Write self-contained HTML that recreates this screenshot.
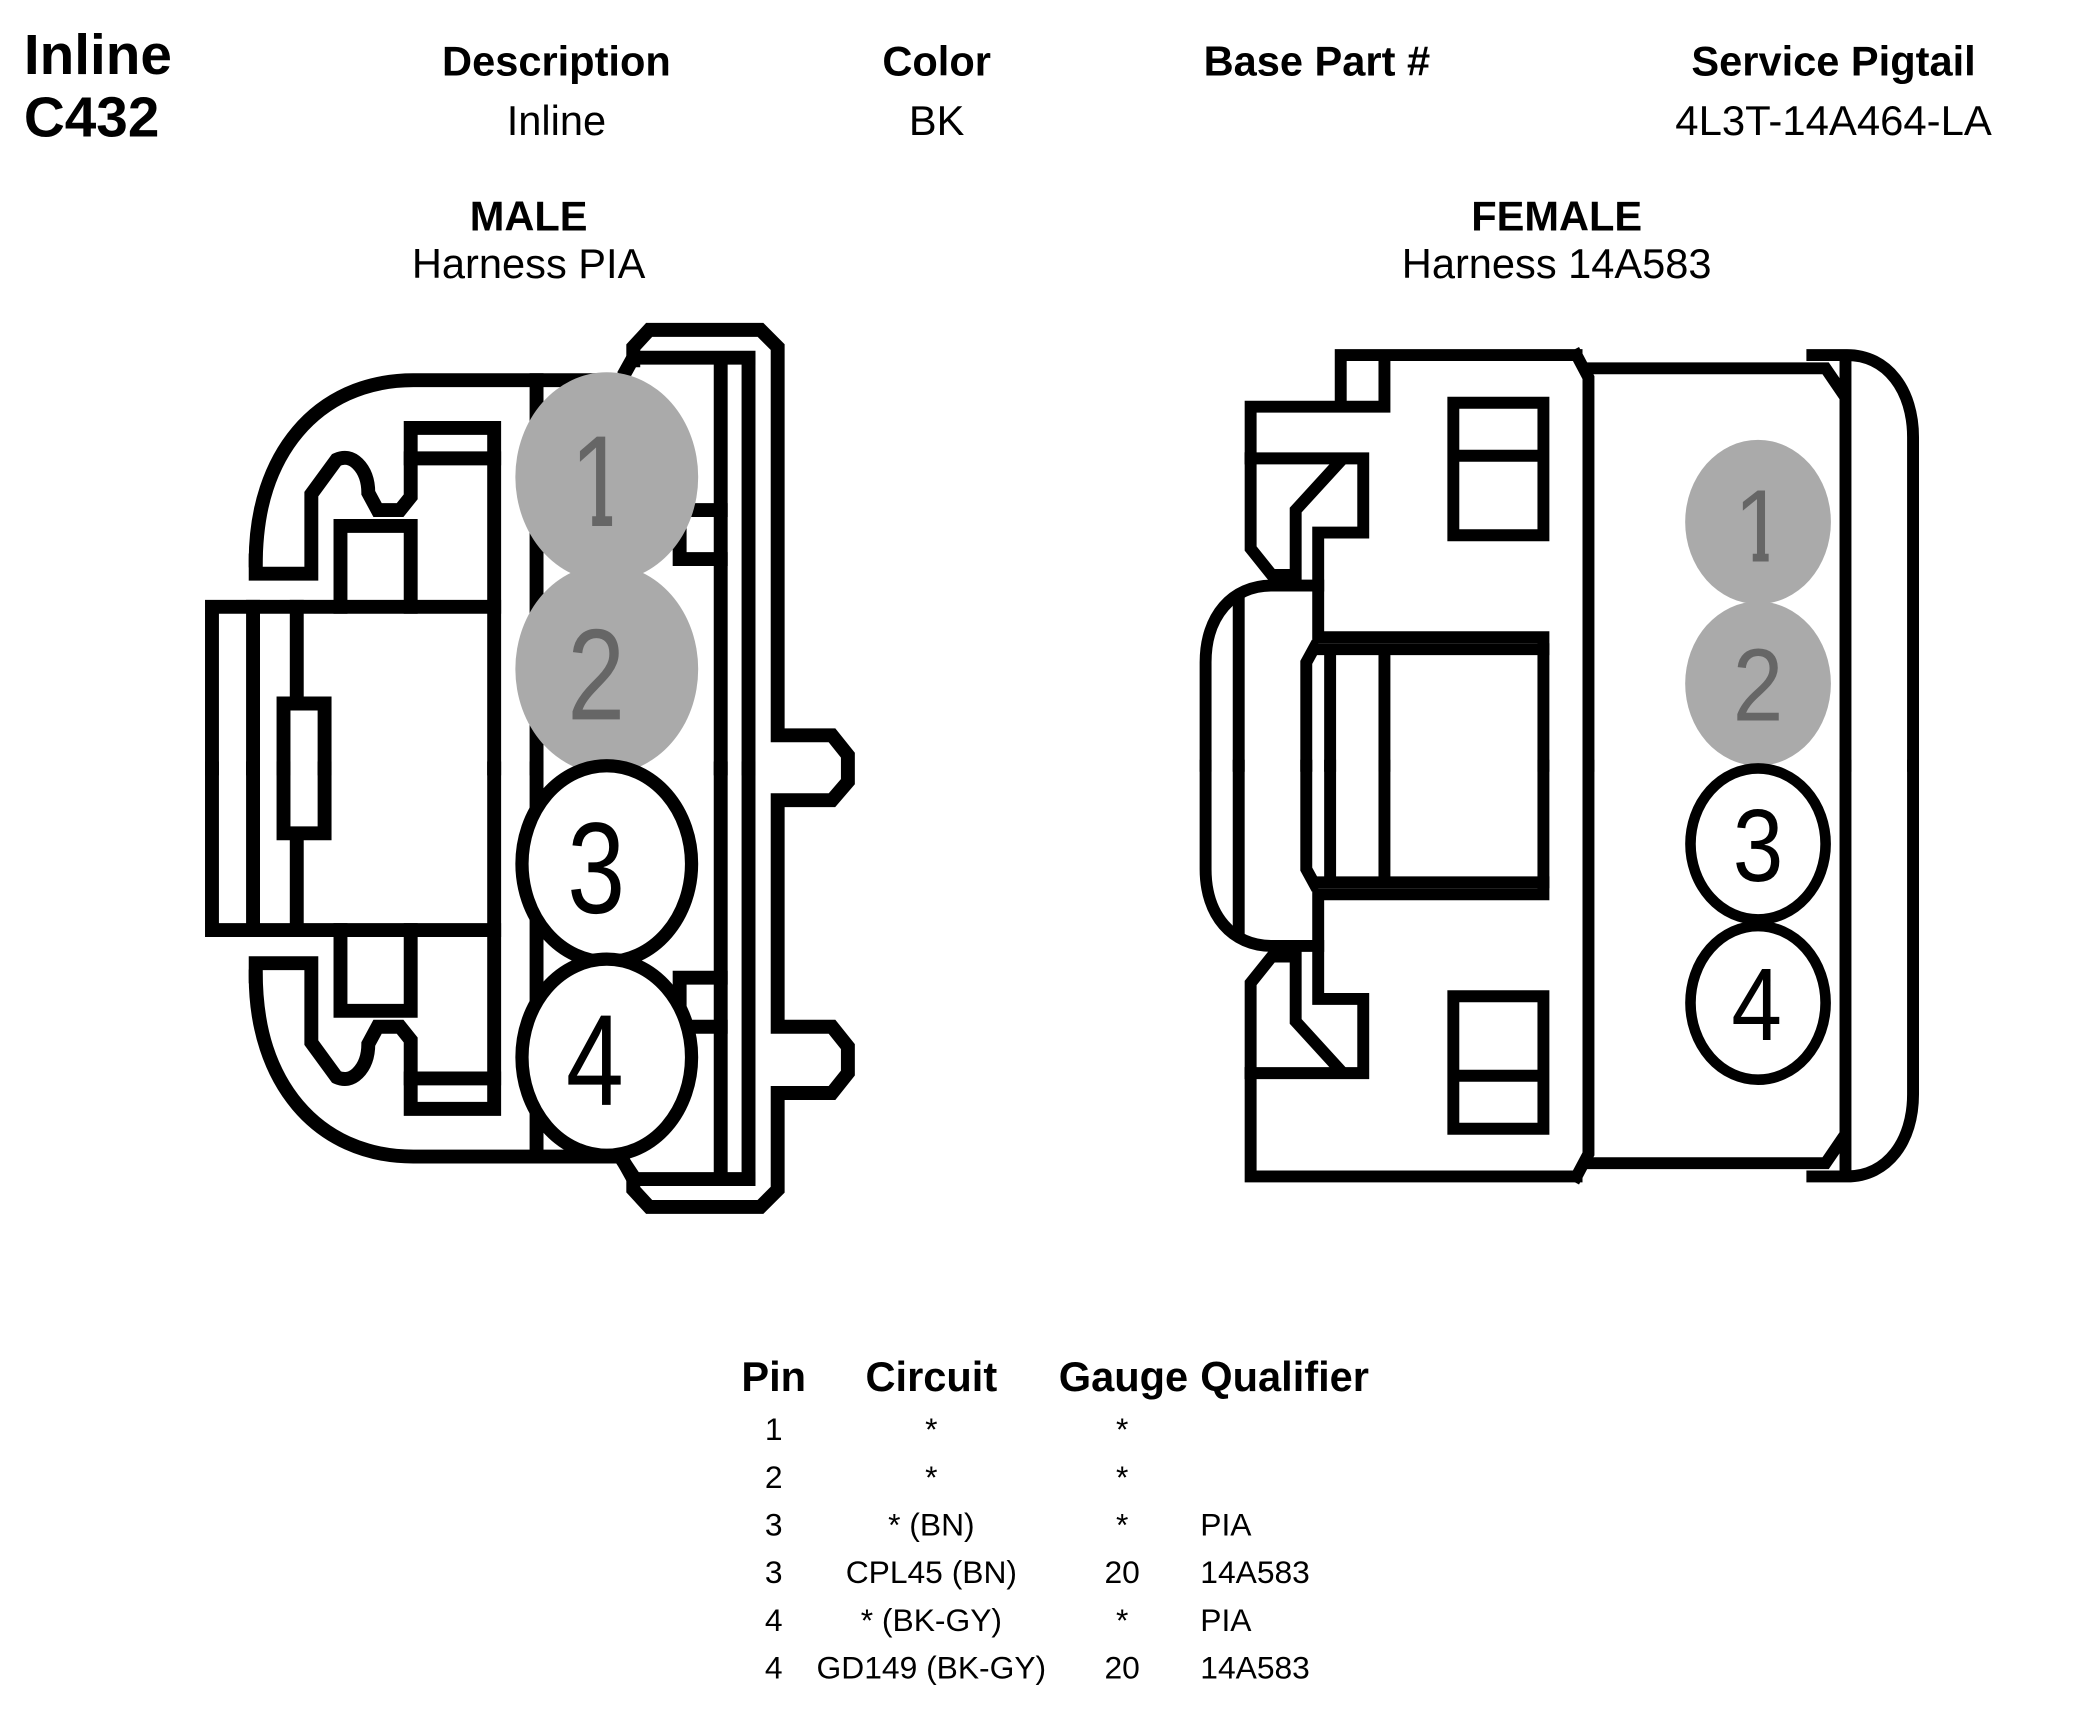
<!DOCTYPE html>
<html><head><meta charset="utf-8"><title>Inline C432</title>
<style>html,body{margin:0;padding:0;background:#fff}svg{display:block}text{font-family:"Liberation Sans",sans-serif;fill:#000}.b{font-weight:700}.m{text-anchor:middle}</style></head>
<body>
<svg xmlns="http://www.w3.org/2000/svg" width="2076" height="1724" viewBox="0 0 1567 1301.3">
<defs>
<g id="mh" fill="none" stroke="#000" stroke-width="10.5" stroke-linecap="square" stroke-linejoin="miter">
<path d="M193 423 C193 345 238 287 312 287 H470"/>
<path d="M193 423 V433 H235 V373 L254 347 Q263 343 270 350 Q278 358 278 372 L285 385 H302 L310 375 V323 H373 V580"/>
<path d="M310 346 H373"/>
<path d="M257 458 V397 H310 V458"/>
<path d="M160 580 V458 H373"/>
<path d="M191 458 V580 M224 458 V531 M214 580 V531 H245 V580"/>
<path d="M405 287 V580 M544 272 V580 M565 272 V580"/>
<path d="M473 279 L478 270 H565"/>
<path d="M515 385 H544 M515 422 H544 M513 402 V422"/>
</g>
<g id="fh" fill="none" stroke="#000" stroke-width="9" stroke-linecap="square" stroke-linejoin="miter">
<path d="M1199 578 V285 L1190 268"/>
<path d="M944 346 V414 L960 434 H978 V385 L1010 350"/>
<path d="M944 346 H1029 V402 H995 V481 H1165 V578"/>
<path d="M995 490 H1165 M1004 490 V578 M1045 490 V578"/>
<path d="M910 578 V500 C910 465 930 442 960 442 H995"/>
<path d="M935 455 V578 M986 578 V500 L992 489"/>
<path d="M1199 278 H1378 L1391 297 M1393 272 V578"/>
<path d="M1368 268 H1394 C1425 268 1444 295 1444 330 V578"/>
<path d="M1097 404 V304 H1165 V404 H1097 M1097 344 H1165"/>
</g>
</defs>
<text class="b" x="18" y="56" font-size="42.8">Inline</text>
<text class="b" x="18" y="103" font-size="42.8">C432</text>
<text class="b m" x="420" y="57" font-size="31.4">Description</text>
<text class="b m" x="707" y="57" font-size="31.4">Color</text>
<text class="b m" x="994" y="57" font-size="31.4">Base Part #</text>
<text class="b m" x="1384" y="57" font-size="31.4">Service Pigtail</text>
<text class="m" x="420" y="102" font-size="31.4">Inline</text>
<text class="m" x="707" y="102" font-size="31.4">BK</text>
<text class="m" x="1384" y="102" font-size="31.6">4L3T-14A464-LA</text>
<text class="b m" x="399" y="174" font-size="31.4">MALE</text>
<text class="m" x="399" y="210" font-size="31.4">Harness PIA</text>
<text class="b m" x="1175" y="174" font-size="31.4">FEMALE</text>
<text class="m" x="1175" y="210" font-size="31.4">Harness 14A583</text>

<use href="#mh"/>
<use href="#mh" transform="matrix(1 0 0 -1 0 1160)"/>
<path d="M587 555 V262 L574 249 H490 L478 262 V272 M587 555 H628 L640 570 V590 L628 604 H587 V775 H628 L640 790 V810 L628 825 H587 V898 L574 911 H490 L478 898 V888 L470 876" fill="none" stroke="#000" stroke-width="10.5" stroke-linecap="square"/>
<ellipse cx="458" cy="360" rx="69" ry="79" fill="#aaa"/>
<ellipse cx="458" cy="505" rx="69" ry="79" fill="#aaa"/>
<ellipse cx="458" cy="652" rx="64" ry="74" fill="#fff" stroke="#000" stroke-width="10"/>
<ellipse cx="458" cy="798" rx="64" ry="74" fill="#fff" stroke="#000" stroke-width="10"/>
<text class="m" font-size="98" transform="translate(452,397) scale(.8,1)" style="fill:#666">1</text>
<rect x="428" y="389" width="19" height="10" fill="#aaa"/><rect x="462" y="389" width="14" height="10" fill="#aaa"/>
<text class="m" font-size="98" transform="translate(450,543) scale(.8,1)" style="fill:#666">2</text>
<text class="m" font-size="98" transform="translate(450,689) scale(.8,1)">3</text>
<text class="m" font-size="98" transform="translate(449,834) scale(.8,1)">4</text>

<use href="#fh"/>
<use href="#fh" transform="matrix(1 0 0 -1 0 1156)"/>
<path d="M1190 268 H1012 V307 M1045 268 V307 H944 V346 M944 810 V888 H1190" fill="none" stroke="#000" stroke-width="9" stroke-linecap="square"/>
<ellipse cx="1327" cy="394" rx="55" ry="62" fill="#aaa"/>
<ellipse cx="1327" cy="516" rx="55" ry="62" fill="#aaa"/>
<ellipse cx="1327" cy="637" rx="51" ry="57" fill="#fff" stroke="#000" stroke-width="8"/>
<ellipse cx="1327" cy="757" rx="51" ry="58" fill="#fff" stroke="#000" stroke-width="8"/>
<text class="m" font-size="78" transform="translate(1328,424) scale(.88,1)" style="fill:#666">1</text>
<rect x="1308" y="417" width="15" height="8" fill="#aaa"/><rect x="1335" y="417" width="14" height="8" fill="#aaa"/>
<text class="m" font-size="78" transform="translate(1327,544) scale(.88,1)" style="fill:#666">2</text>
<text class="m" font-size="78" transform="translate(1327,665) scale(.88,1)">3</text>
<text class="m" font-size="78" transform="translate(1326,785) scale(.88,1)">4</text>

<text class="b m" x="584" y="1050" font-size="31.4">Pin</text>
<text class="b m" x="703" y="1050" font-size="31.4">Circuit</text>
<text class="b m" x="848" y="1050" font-size="31.4">Gauge</text>
<text class="b" x="906" y="1050" font-size="31.4">Qualifier</text>
<g font-size="24">
<text class="m" x="584" y="1087">1</text><text class="m" x="703" y="1087">*</text><text class="m" x="847" y="1087">*</text>
<text class="m" x="584" y="1123">2</text><text class="m" x="703" y="1123">*</text><text class="m" x="847" y="1123">*</text>
<text class="m" x="584" y="1159">3</text><text class="m" x="703" y="1159">* (BN)</text><text class="m" x="847" y="1159">*</text><text x="906" y="1159">PIA</text>
<text class="m" x="584" y="1195">3</text><text class="m" x="703" y="1195">CPL45 (BN)</text><text class="m" x="847" y="1195">20</text><text x="906" y="1195">14A583</text>
<text class="m" x="584" y="1231">4</text><text class="m" x="703" y="1231">* (BK-GY)</text><text class="m" x="847" y="1231">*</text><text x="906" y="1231">PIA</text>
<text class="m" x="584" y="1267">4</text><text class="m" x="703" y="1267">GD149 (BK-GY)</text><text class="m" x="847" y="1267">20</text><text x="906" y="1267">14A583</text>
</g>
</svg>
</body></html>
